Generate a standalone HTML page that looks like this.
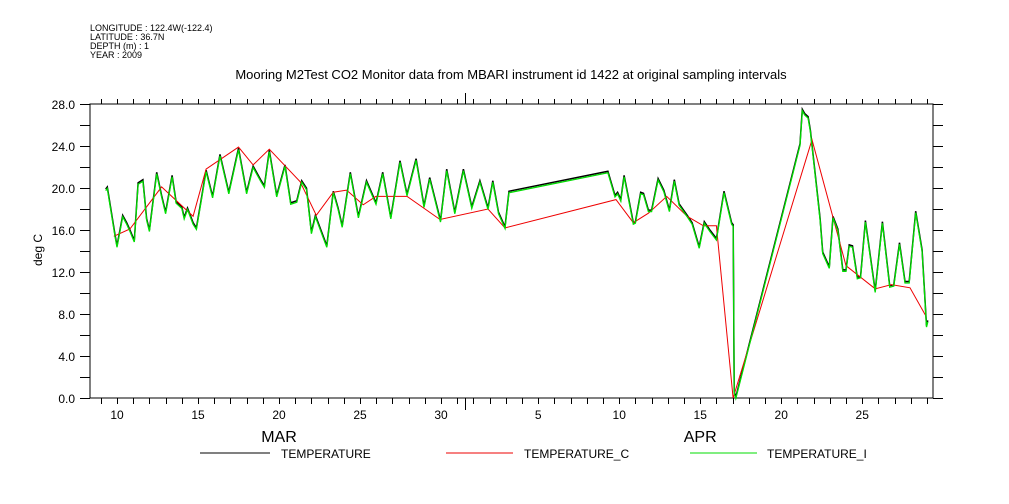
<!DOCTYPE html>
<html><head><meta charset="utf-8"><style>
body{margin:0;background:#fff;}
svg{display:block;font-family:"Liberation Sans",sans-serif;}
</style></head><body>
<svg id="chart" width="1009" height="504" viewBox="0 0 1009 504">
<g font-size="9" fill="#000">
<text x="90" y="31">LONGITUDE : 122.4W(-122.4)</text>
<text x="90" y="40">LATITUDE : 36.7N</text>
<text x="90" y="49">DEPTH (m) : 1</text>
<text x="90" y="58">YEAR : 2009</text>
</g>
<text x="511" y="79" text-anchor="middle" font-size="13">Mooring M2Test CO2 Monitor data from MBARI instrument id 1422 at original sampling intervals</text>
<text transform="translate(42,250) rotate(-90)" text-anchor="middle" font-size="12">deg C</text>
<g id="axes"></g>
<g id="series"></g>
<g font-size="12">
<line x1="200" y1="453" x2="270" y2="453" stroke="#000"/>
<text x="281" y="458">TEMPERATURE</text>
<line x1="446" y1="453" x2="513" y2="453" stroke="#e00"/>
<text x="524" y="458">TEMPERATURE_C</text>
<line x1="690" y1="453" x2="757" y2="453" stroke="#0d0"/>
<text x="767" y="458">TEMPERATURE_I</text>
</g>
</svg>
<script>
const yTicks=[0,4,8,12,16,20,24,28];
const yTickLabels=["0.0","4.0","8.0","12.0","16.0","20.0","24.0","28.0"];
const xTickDays=[10,15,20,25,30,36,41,46,51,56];
const xTickLabels=["10","15","20","25","30","5","10","15","20","25"];
const monthDays=[20,46];
const monthLabels=["MAR","APR"];
const days=[9.3,9.4,9.88,10.0,10.35,10.6,10.8,11.07,11.3,11.6,11.83,12.0,12.45,12.75,13.0,13.4,13.65,14.0,14.15,14.35,14.7,14.9,15.2,15.5,15.9,16.36,16.9,17.5,18.0,18.4,18.9,19.1,19.4,19.86,20.37,20.72,21.1,21.4,21.7,22.0,22.25,22.95,23.35,23.65,23.9,24.4,24.9,25.4,25.99,26.4,26.9,27.47,27.9,28.46,28.95,29.3,29.97,30.35,30.85,31.38,31.9,32.4,32.9,33.2,33.55,33.95,34.2,40.3,40.74,40.9,41.1,41.3,41.6,41.87,42.0,42.33,42.5,42.8,43.0,43.4,43.75,44.1,44.4,44.7,45.25,45.5,45.94,46.25,46.6,47.0,47.47,47.94,48.04,48.1,48.2,52.16,52.3,52.45,52.66,52.8,53.4,53.56,53.97,54.2,54.5,54.8,55.0,55.2,55.4,55.7,55.9,56.2,56.8,57.25,57.7,57.95,58.3,58.64,58.9,59.3,59.7,59.97,60.05];
const temp=[19.8,20.0,15.4,14.4,17.3,16.6,15.9,14.9,20.4,20.7,17.0,15.9,21.4,19.2,17.6,21.1,18.6,18.1,17.1,18.0,16.6,16.1,18.8,21.6,19.1,23.1,19.5,23.7,19.5,22.0,20.6,20.1,23.5,19.2,22.1,18.5,18.7,20.6,19.9,15.7,17.3,14.4,19.6,18.0,16.3,21.4,17.2,20.6,18.5,21.4,17.1,22.5,19.3,22.7,18.2,20.9,16.8,21.7,17.6,21.7,18.1,20.6,18.0,20.6,17.6,16.2,19.6,21.5,19.2,19.5,18.8,21.1,18.8,16.6,16.7,19.5,19.4,17.8,17.8,20.8,19.7,17.8,20.7,18.4,17.2,16.6,14.3,16.7,15.9,15.1,19.6,16.6,16.4,0.5,0.0,24.1,27.4,27.0,26.7,25.4,17.0,13.8,12.4,17.2,16.0,12.1,12.1,14.5,14.4,11.4,11.5,16.8,10.1,16.7,10.6,10.7,14.7,11.0,11.0,17.7,14.0,6.8,7.3];
const tempI=temp.slice();
const daysC=[9.8,10.8,12.75,14.7,15.5,17.5,18.4,19.4,21.3,22.3,23.35,24.17,25.2,25.98,27.9,29.94,32.9,33.95,40.8,41.87,42.8,43.93,45.2,46.2,47.0,48.03,52.9,54.2,55.0,56.8,57.8,58.95,59.9];
const tempC=[15.4,16.1,20.1,17.3,21.8,23.9,22.2,23.7,20.6,17.4,19.6,19.8,18.4,19.2,19.2,17.0,18.0,16.2,18.9,16.7,17.6,19.2,17.3,16.4,16.4,0.0,24.6,17.2,12.6,10.4,10.8,10.5,7.9];

const L=90,R=933,T=104,B=398;
const xs=d=>117+(d-10)*16.2;
const ys=v=>B-v*(B-T)/28;
const NS="http://www.w3.org/2000/svg";
function mk(tag,attrs,parent){const e=document.createElementNS(NS,tag);for(const k in attrs)e.setAttribute(k,attrs[k]);parent.appendChild(e);return e;}
const ax=document.getElementById('axes');
const frame=mk('rect',{x:L,y:T,width:R-L,height:B-T,fill:'none',stroke:'#000','stroke-width':1},ax);


for(let v=0;v<=28;v+=2){
  const y=Math.round(ys(v))+0.5;
  const t1=mk('line',{x1:L-10,y1:y,x2:L,y2:y,stroke:'#000'},ax);
  
  
  const t2=mk('line',{x1:R,y1:y,x2:R+10,y2:y,stroke:'#000'},ax);
  
  
}
yTicks.forEach((v,i)=>{
  const t=mk('text',{x:L-15,y:ys(v)+5,'text-anchor':'end','font-size':12},ax);
  t.textContent=yTickLabels[i];
  
  
});
for(let d=9;d<=60;d++){
  const x=Math.round(xs(d))+0.5;
  const a=mk('line',{x1:x,y1:B,x2:x,y2:B+6,stroke:'#000'},ax);
  
  
  const b=mk('line',{x1:x,y1:T-5,x2:x,y2:T,stroke:'#000'},ax);
  
  
}
const mb=Math.round(xs(31.5))+0.5;
const m1=mk('line',{x1:mb,y1:B,x2:mb,y2:B+12,stroke:'#000'},ax);


const m2=mk('line',{x1:mb,y1:T-11,x2:mb,y2:T,stroke:'#000'},ax);


xTickDays.forEach((d,i)=>{
  const t=mk('text',{x:xs(d),y:419,'text-anchor':'middle','font-size':12},ax);
  t.textContent=xTickLabels[i];
  
  
});
monthDays.forEach((d,i)=>{
  const t=mk('text',{x:xs(d),y:442,'text-anchor':'middle','font-size':16},ax);
  t.textContent=monthLabels[i];
  
  
});
const sg=document.getElementById('series');
function pts(dd,vv,dy){return dd.map((d,i)=>xs(d).toFixed(1)+','+(ys(vv[i])+dy).toFixed(1)).join(' ');}
const pb=mk('polyline',{points:pts(days,temp,-1),fill:'none',stroke:'#000','stroke-width':1.5},sg);


const pc=mk('polyline',{points:pts(daysC,tempC,0),fill:'none',stroke:'#e00','stroke-width':1},sg);


const pi=mk('polyline',{points:pts(days,tempI,0.5),fill:'none',stroke:'#0d0','stroke-width':1.3},sg);


</script>
</body></html>
